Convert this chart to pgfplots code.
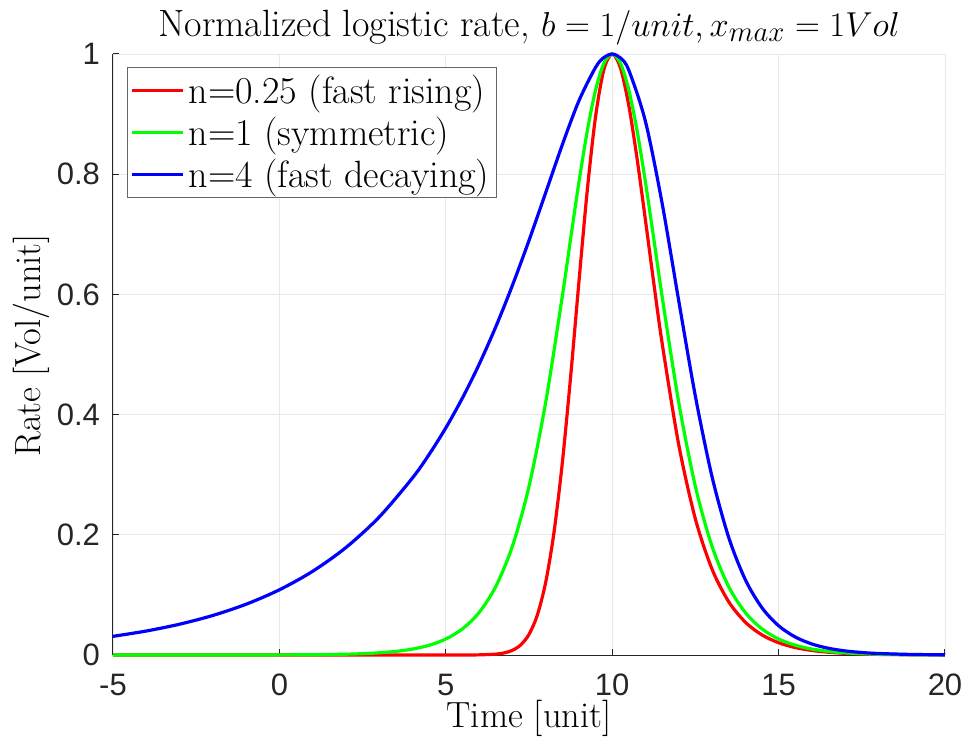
\documentclass[border=0pt]{standalone}
\usepackage{fontspec}
\setsansfont{Liberation Sans}
\usepackage{pgfplots}
\pgfplotsset{compat=1.18}

\definecolor{tickgray}{RGB}{38,38,38}

\begin{document}
\begin{tikzpicture}
\useasboundingbox (-56.5pt,-42.5pt) rectangle (426pt,327.5pt);
\begin{axis}[
  at={(0,0)}, anchor=south west,
  scale only axis, width=416pt, height=300.5pt,
  xmin=-5, xmax=20, ymin=0, ymax=1,
  xtick={-5,0,5,10,15,20}, xticklabels={-5,0,5,10,15,20},
  ytick={0,0.2,0.4,0.6,0.8,1}, yticklabels={0,0.2,0.4,0.6,0.8,1},
  axis x line*=bottom, axis y line*=left,
  axis line style={tickgray, line width=0.5pt, -},
  tick align=inside, major tick length=3pt,
  tick style={tickgray, line width=0.5pt},
  grid=major, major grid style={black!9, line width=0.4pt},
  tick label style={font=\sffamily\fontsize{15.5}{18}\selectfont, text=tickgray},
  xticklabel style={yshift=-6pt},
  yticklabel style={xshift=-3pt},
  title={Normalized logistic rate, $b = 1/unit, x_{max} = 1Vol$},
  title style={font=\fontsize{19}{22}\selectfont, yshift=-5pt},
  xlabel={Time [unit]}, ylabel={Rate [Vol/unit]},
  label style={font=\fontsize{18.2}{21}\selectfont},
  xlabel style={at={(axis description cs:0.5,-0.105)}, anchor=center},
  ylabel style={at={(axis description cs:-0.098,0.515)}, anchor=center},
  legend style={at={(0.0168,0.978)}, anchor=north west, draw=black!60, line width=0.5pt,
    font=\fontsize{19}{22}\selectfont, inner sep=1.5pt, row sep=1.3pt},
  legend cell align=left,
  legend image code/.code={\draw[#1, line width=1.6pt] (0pt,0pt) -- (25.5pt,0pt);},
  clip=false,
  every axis plot/.append style={line width=1.6pt, smooth},
]
% n = 0.25
\addplot[color=red] coordinates {
(-5,0)(0,0)(4,0)(5,0.00001)(5.5,0.00004)(6,0.00025)(6.5,0.00147)(6.75,0.00343)
(7,0.00774)(7.25,0.01672)(7.5,0.03430)(7.75,0.06644)(8,0.12052)(8.25,0.20365)
(8.5,0.31917)(8.75,0.46254)(9,0.62069)(9.25,0.77250)(9.5,0.89587)(9.75,0.97409)
(10,1)(10.25,0.97652)(10.5,0.91381)(10.75,0.82499)(11,0.72311)(11.25,0.61865)
(11.5,0.51907)(12,0.34970)(12.5,0.22631)(13,0.14283)(13.5,0.08875)(14,0.05463)
(14.5,0.03344)(15,0.02039)(15.5,0.01241)(16,0.00754)(16.5,0.00458)(17,0.00278)
(17.5,0.00169)(18,0.00102)(19,0.00038)(20,0.00014)};
\addlegendentry{n=0.25 (fast rising)}
% n = 1
\addplot[color=green] coordinates {
(-5,0)(-2,0.00001)(0,0.00018)(1,0.00049)(2,0.00134)(2.5,0.00221)(3,0.00364)
(3.5,0.00600)(4,0.00987)(4.5,0.01621)(5,0.02659)(5.5,0.04347)(6,0.07065)
(6.5,0.11381)(7,0.18071)(7.5,0.28042)(8,0.41998)(8.5,0.59660)(8.75,0.69242)
(9,0.78645)(9.25,0.87158)(9.5,0.94001)(9.75,0.98454)(10,1)(10.25,0.98454)
(10.5,0.94001)(10.75,0.87158)(11,0.78645)(11.25,0.69242)(11.5,0.59660)
(12,0.41998)(12.5,0.28042)(13,0.18071)(13.5,0.11381)(14,0.07065)(14.5,0.04347)
(15,0.02659)(15.5,0.01621)(16,0.00987)(16.5,0.00600)(17,0.00364)(17.5,0.00221)
(18,0.00134)(19,0.00049)(20,0.00018)};
\addlegendentry{n=1 (symmetric)}
% n = 4
\addplot[color=blue] coordinates {
(-5,0.03108)(-4,0.03991)(-3,0.05125)(-2,0.06580)(-1,0.08449)(0,0.10849)
(1,0.13930)(2,0.17885)(3,0.22961)(4,0.29468)(4.5,0.33380)(5,0.37788)(5.5,0.42761)
(6,0.48344)(6.5,0.54584)(7,0.61477)(7.5,0.68975)(8,0.76900)(8.5,0.84880)
(9,0.92215)(9.5,0.97770)(9.75,0.99409)(10,1)(10.25,0.99339)(10.5,0.97288)
(11,0.88760)(11.5,0.75159)(12,0.58917)(12.5,0.43038)(13,0.29665)(13.5,0.19577)
(14,0.12535)(14.5,0.07866)(15,0.04871)(15.5,0.02994)(16,0.01831)(16.5,0.01116)
(17,0.00679)(17.5,0.00413)(18,0.00251)(19,0.00092)(20,0.00034)};
\addlegendentry{n=4 (fast decaying)}
\end{axis}
\end{tikzpicture}
\end{document}
